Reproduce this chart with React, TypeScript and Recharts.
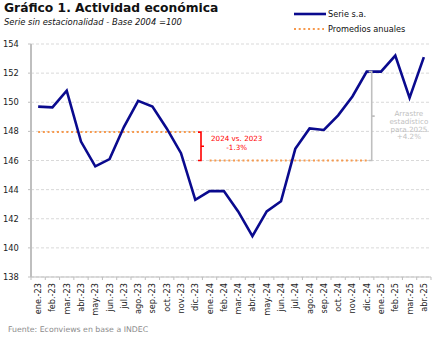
import React from "react";
import {
  LineChart,
  Line,
  XAxis,
  YAxis,
  CartesianGrid,
  ReferenceLine,
  ReferenceDot,
} from "recharts";

const meses = [
  "ene.-23", "feb.-23", "mar.-23", "abr.-23", "may.-23", "jun.-23",
  "jul.-23", "ago.-23", "sep.-23", "oct.-23", "nov.-23", "dic.-23",
  "ene.-24", "feb.-24", "mar.-24", "abr.-24", "may.-24", "jun.-24",
  "jul.-24", "ago.-24", "sep.-24", "oct.-24", "nov.-24", "dic.-24",
  "ene.-25", "feb.-25", "mar.-25", "abr.-25",
];

const serieSA = [
  149.7, 149.65, 150.8, 147.3, 145.6, 146.1, 148.3, 150.1, 149.7, 148.2, 146.5, 143.3,
  143.9, 143.9, 142.5, 140.8, 142.5, 143.2, 146.8, 148.2, 148.1, 149.1, 150.4, 152.1,
  152.1, 153.2, 150.3, 153.1,
];

const promedio2023 = 147.95;
const promedio2024 = 146.0;

const yTicks = [138, 140, 142, 144, 146, 148, 150, 152, 154];

// anotaciones (en coordenadas de datos)
const brechaX = 11.4;
const brechaTexto = ["2024 vs. 2023", "-1.3%"];
const arrastreX = 23.35;
const arrastreTope = 152.1;
const arrastreTexto = ["Arrastre", "estadístico", "para 2025", "+4.2%"];

const W = 443;
const H = 340;
const MARGIN = { top: 44, right: 12, bottom: 0, left: 0 };
const Y_W = 31;
const X_H = 63;
const AXIS_Y = H - X_H;
const halfBand = (W - MARGIN.left - MARGIN.right - Y_W) / meses.length / 2;

const FONT = "'DejaVu Sans', Verdana, sans-serif";
const NAVY = "#0A0A8E";
const ORANGE = "#F7994C";
const GRIS = "#BFBFBF";

const data = meses.map((mes, i) => ({
  i,
  mes,
  serie: serieSA[i],
  prom23: i < 12 ? promedio2023 : null,
  prom24: i >= 12 && i < 24 ? promedio2024 : null,
}));

function XTick(props: any) {
  const { x, payload } = props;
  const i = payload.value as number;
  return (
    <g>
      <line x1={x - halfBand} x2={x - halfBand} y1={AXIS_Y} y2={AXIS_Y + 3} stroke={GRIS} />
      {i === meses.length - 1 && (
        <line x1={x + halfBand} x2={x + halfBand} y1={AXIS_Y} y2={AXIS_Y + 3} stroke={GRIS} />
      )}
      <text
        x={x + 3}
        y={AXIS_Y + 6}
        transform={`rotate(-90 ${x + 3} ${AXIS_Y + 6})`}
        textAnchor="end"
        fontSize={8.2}
        fontFamily={FONT}
        fill="#222"
      >
        {meses[i]}
      </text>
    </g>
  );
}

function YTick(props: any) {
  const { y, payload } = props;
  return (
    <text x={3} y={y + 3} fontSize={8.3} fontFamily={FONT} fill="#222">
      {payload.value}
    </text>
  );
}

const bracket = (color: string) => (p: any) => {
  const { x1, y1, y2 } = p;
  const mid = (y1 + y2) / 2;
  return (
    <path
      d={`M${x1 - 3},${y1} H${x1} V${y2} H${x1 - 3} M${x1},${mid} H${x1 + 3}`}
      fill="none"
      stroke={color}
      strokeWidth={1.6}
    />
  );
};

const textoEn = (texto: string, color: string, size: number) => (p: any) => (
  <text
    x={p.cx}
    y={p.cy}
    textAnchor="middle"
    fontSize={size}
    fontFamily={FONT}
    fill={color}
  >
    {texto}
  </text>
);

function Leyenda() {
  return (
    <div style={{ position: "absolute", left: 294, top: 6, fontFamily: FONT, fontSize: 8.2, color: "#111" }}>
      <div style={{ display: "flex", alignItems: "center", height: 15 }}>
        <svg width={34} height={6}>
          <line x1={0} x2={32} y1={3} y2={3} stroke={NAVY} strokeWidth={2.6} />
        </svg>
        <span>Serie s.a.</span>
      </div>
      <div style={{ display: "flex", alignItems: "center", height: 15 }}>
        <svg width={34} height={6}>
          <line x1={0} x2={30} y1={3} y2={3} stroke={ORANGE} strokeWidth={2} strokeDasharray="2 2.7" />
        </svg>
        <span>Promedios anuales</span>
      </div>
    </div>
  );
}

export default function App() {
  return (
    <div style={{ position: "absolute", left: 0, top: 0, width: W, height: H, background: "#fff" }}>
      <LineChart width={W} height={H} data={data} margin={MARGIN}>
        <CartesianGrid vertical={false} stroke="#D9D9D9" strokeDasharray="3 2" />
        <XAxis
          dataKey="i"
          type="number"
          domain={[-0.5, meses.length - 0.5]}
          ticks={meses.map((_, i) => i)}
          interval={0}
          height={X_H}
          tickLine={false}
          axisLine={{ stroke: GRIS }}
          tick={<XTick />}
        />
        <YAxis
          width={Y_W}
          domain={[138, 154]}
          ticks={yTicks}
          interval={0}
          tickSize={3}
          tickLine={{ stroke: GRIS }}
          axisLine={{ stroke: GRIS, strokeWidth: 2 }}
          tick={<YTick />}
        />
        <Line
          dataKey="prom23"
          stroke={ORANGE}
          strokeWidth={2}
          strokeDasharray="2 2.7"
          dot={false}
          isAnimationActive={false}
          connectNulls={false}
        />
        <Line
          dataKey="prom24"
          stroke={ORANGE}
          strokeWidth={2}
          strokeDasharray="2 2.7"
          dot={false}
          isAnimationActive={false}
          connectNulls={false}
        />
        <Line
          dataKey="serie"
          stroke={NAVY}
          strokeWidth={2.6}
          dot={false}
          isAnimationActive={false}
        />
        <ReferenceLine
          segment={[{ x: brechaX, y: promedio2023 }, { x: brechaX, y: promedio2024 }]}
          shape={bracket("#FF0000")}
        />
        <ReferenceLine
          segment={[{ x: arrastreX, y: arrastreTope }, { x: arrastreX, y: promedio2024 }]}
          shape={bracket(GRIS)}
        />
        <ReferenceDot x={13.9} y={147.35} r={0} shape={textoEn(brechaTexto[0], "#FF0000", 7.2)} />
        <ReferenceDot x={13.9} y={146.7} r={0} shape={textoEn(brechaTexto[1], "#FF0000", 7.2)} />
        {arrastreTexto.map((t, k) => (
          <ReferenceDot
            key={t}
            x={25.95}
            y={149.05 - k * 0.53}
            r={0}
            shape={textoEn(t, GRIS, 7.2)}
          />
        ))}
      </LineChart>
      <div
        style={{
          position: "absolute",
          left: 4,
          top: 1,
          fontFamily: FONT,
          fontWeight: "bold",
          fontSize: 12.3,
          color: "#111",
          whiteSpace: "nowrap",
        }}
      >
        Gráfico 1. Actividad económica
      </div>
      <div
        style={{
          position: "absolute",
          left: 4,
          top: 17,
          fontFamily: FONT,
          fontStyle: "italic",
          fontSize: 8.4,
          color: "#111",
          whiteSpace: "nowrap",
        }}
      >
        Serie sin estacionalidad - Base 2004 =100
      </div>
      <Leyenda />
      <div
        style={{
          position: "absolute",
          left: 8,
          top: 325,
          fontFamily: FONT,
          fontSize: 7.8,
          color: "#8C8C8C",
          whiteSpace: "nowrap",
        }}
      >
        Fuente: Econviews en base a INDEC
      </div>
    </div>
  );
}
